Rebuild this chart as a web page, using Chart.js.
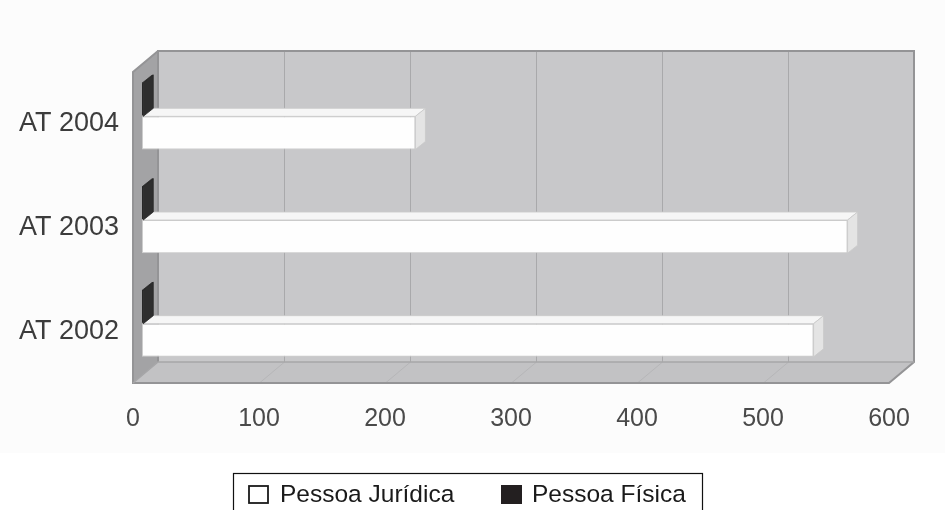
<!DOCTYPE html>
<html>
<head>
<meta charset="utf-8">
<script src="https://cdn.jsdelivr.net/npm/chart.js@4.4.1/dist/chart.umd.min.js"></script>
<style>
  html, body { margin: 0; padding: 0; background: #ffffff; }
  canvas { display: block; }
</style>
</head>
<body>
<canvas id="chart" width="945" height="510"></canvas>
<script>
// Categories (top to bottom) and the two series
const categories = ['AT 2004', 'AT 2003', 'AT 2002'];
const pessoaJuridica = [217, 560, 533];
const pessoaFisica = [1, 1, 1];
const seriesNames = ['Pessoa Jurídica', 'Pessoa Física'];
const xTickValues = [0, 100, 200, 300, 400, 500, 600];

// 3D box geometry (oblique projection offsets)
const WALL = { dx: 25, dy: -21 };     // front plane -> back wall
const BAR_SHIFT = { dx: 9, dy: -7.5 }; // front plane -> bar front faces
const BAR_DEPTH = { dx: 10, dy: -8 };  // thickness of each bar

const FONT = "'Liberation Sans', Arial, Helvetica, sans-serif";

function poly(ctx, pts, fill, stroke, lw) {
  ctx.beginPath();
  ctx.moveTo(pts[0][0], pts[0][1]);
  for (let i = 1; i < pts.length; i++) ctx.lineTo(pts[i][0], pts[i][1]);
  ctx.closePath();
  if (fill) { ctx.fillStyle = fill; ctx.fill(); }
  if (stroke) { ctx.strokeStyle = stroke; ctx.lineWidth = lw || 1; ctx.stroke(); }
}

// face colours per series name
const faceStyles = {
  'Pessoa Jurídica': { top: '#f6f6f6', side: '#e4e4e4', edge: '#c9c9c9' },
  'Pessoa Física': { top: '#4a4a4a', side: '#2e2e2e', edge: '#262626' }
};

const box3d = {
  id: 'box3d',
  beforeDraw(chart) {
    const ctx = chart.ctx;
    const a = chart.chartArea;
    const xs = chart.scales.x;
    const L = a.left, R = a.right, T = a.top, B = a.bottom;
    const dx = WALL.dx, dy = WALL.dy;
    ctx.save();
    // page background
    ctx.fillStyle = '#fcfcfc';
    ctx.fillRect(0, 0, chart.width, 453);
    ctx.fillStyle = '#ffffff';
    ctx.fillRect(0, 453, chart.width, chart.height - 453);

    // back wall
    poly(ctx, [[L + dx, T + dy], [R + dx, T + dy], [R + dx, B + dy], [L + dx, B + dy]], '#c8c8ca');
    // floor
    poly(ctx, [[L, B], [L + dx, B + dy], [R + dx, B + dy], [R, B]], '#c2c2c4');
    // left side wall
    poly(ctx, [[L, T], [L + dx, T + dy], [L + dx, B + dy], [L, B]], '#a3a3a5');

    // gridlines on the back wall and the floor
    ctx.lineWidth = 1;
    xTickValues.forEach(v => {
      if (v === xTickValues[0] || v === xTickValues[xTickValues.length - 1]) return;
      const fx = Math.round(xs.getPixelForValue(v)) + 0.5;
      ctx.strokeStyle = '#a9a9ab';
      ctx.beginPath();
      ctx.moveTo(fx + dx, T + dy);
      ctx.lineTo(fx + dx, B + dy);
      ctx.stroke();
      ctx.strokeStyle = '#b6b6b8';
      ctx.beginPath();
      ctx.moveTo(fx + dx, B + dy);
      ctx.lineTo(fx, B);
      ctx.stroke();
    });

    // box edges
    ctx.strokeStyle = '#949496';
    ctx.lineWidth = 2;
    ctx.beginPath();
    ctx.moveTo(L + dx, B + dy);
    ctx.lineTo(L + dx, T + dy);
    ctx.lineTo(R + dx, T + dy);
    ctx.lineTo(R + dx, B + dy);
    ctx.lineTo(R, B);
    ctx.lineTo(L, B);
    ctx.lineTo(L, T);
    ctx.lineTo(L + dx, T + dy);
    ctx.stroke();
    ctx.lineWidth = 1.5;
    ctx.strokeStyle = '#a6a6a8';
    ctx.beginPath();
    ctx.moveTo(L, B);
    ctx.lineTo(L + dx, B + dy);
    ctx.lineTo(R + dx, B + dy);
    ctx.stroke();
    ctx.restore();
  },
  beforeDatasetsDraw(chart) {
    chart.ctx.save();
    chart.ctx.translate(BAR_SHIFT.dx, BAR_SHIFT.dy);
  },
  afterDatasetsDraw(chart) {
    const ctx = chart.ctx;
    // lower series first, so the upper one sits on top of it
    const order = chart.data.datasets.map((d, i) => i).reverse();
    order.forEach(di => {
      const meta = chart.getDatasetMeta(di);
      const st = faceStyles[chart.data.datasets[di].label];
      meta.data.forEach(bar => {
        const p = bar.getProps(['x', 'y', 'base', 'height'], true);
        const top = p.y - p.height / 2;
        const bot = p.y + p.height / 2;
        const x0 = p.base, x1 = p.x;
        const ddx = BAR_DEPTH.dx, ddy = BAR_DEPTH.dy;
        // top face
        poly(ctx, [[x0, top], [x1, top], [x1 + ddx, top + ddy], [x0 + ddx, top + ddy]], st.top, st.edge, 0.8);
        // end face
        poly(ctx, [[x1, top], [x1 + ddx, top + ddy], [x1 + ddx, bot + ddy], [x1, bot]], st.side, st.edge, 0.8);
      });
    });
    ctx.restore();
  },
  afterDraw(chart) {
    const ctx = chart.ctx;
    ctx.save();
    // legend frame
    ctx.strokeStyle = '#111111';
    ctx.lineWidth = 1.2;
    ctx.strokeRect(233.5, 473.5, 469, 60);
    ctx.font = '24.5px ' + FONT;
    ctx.textBaseline = 'alphabetic';
    ctx.textAlign = 'left';
    // first entry: open square
    ctx.fillStyle = '#ffffff';
    ctx.fillRect(249, 486, 19, 17);
    ctx.lineWidth = 1.8;
    ctx.strokeStyle = '#1a1a1a';
    ctx.strokeRect(249, 486, 19, 17);
    ctx.fillStyle = '#1a1a1a';
    ctx.fillText(seriesNames[0], 280, 502);
    // second entry: solid square
    ctx.fillStyle = '#231f20';
    ctx.fillRect(501, 485, 21, 19);
    ctx.fillStyle = '#1a1a1a';
    ctx.fillText(seriesNames[1], 532, 502);
    ctx.restore();
  }
};

new Chart(document.getElementById('chart'), {
  type: 'bar',
  data: {
    labels: categories,
    datasets: [
      {
        label: seriesNames[1],
        data: pessoaFisica,
        backgroundColor: '#2a2a2a',
        borderWidth: 0,
        categoryPercentage: 0.64,
        barPercentage: 1.0
      },
      {
        label: seriesNames[0],
        data: pessoaJuridica,
        backgroundColor: '#fefefe',
        borderColor: '#cdcdcd',
        borderWidth: 1,
        borderSkipped: false,
        categoryPercentage: 0.64,
        barPercentage: 1.0
      }
    ]
  },
  options: {
    indexAxis: 'y',
    responsive: false,
    animation: false,
    devicePixelRatio: 1,
    layout: { padding: { top: 72, right: 56, left: 0, bottom: 0 } },
    plugins: {
      legend: { display: false },
      tooltip: { enabled: false }
    },
    scales: {
      x: {
        type: 'linear',
        min: 0,
        max: 600,
        afterBuildTicks(scale) {
          scale.ticks = xTickValues.map(v => ({ value: v }));
        },
        grid: { display: false, drawTicks: false },
        border: { display: false },
        ticks: {
          color: '#4a4a4a',
          padding: 21,
          font: { family: FONT, size: 25 }
        },
        afterFit(scale) { scale.height = 127; }
      },
      y: {
        type: 'category',
        grid: { display: false, drawTicks: false },
        border: { display: false },
        ticks: {
          color: '#3c3c3c',
          padding: 14,
          font: { family: FONT, size: 27 }
        },
        afterFit(scale) { scale.width = 133; }
      }
    }
  },
  plugins: [box3d]
});
</script>
</body>
</html>
